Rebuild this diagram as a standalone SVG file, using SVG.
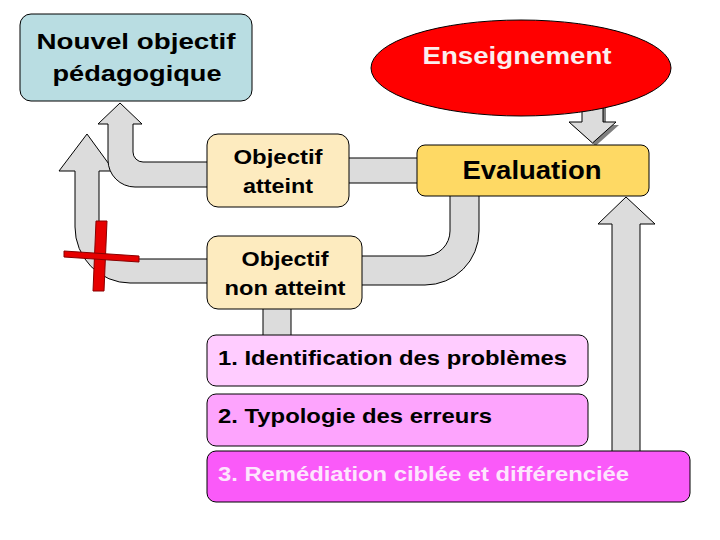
<svg xmlns="http://www.w3.org/2000/svg" width="720" height="540" viewBox="0 0 720 540">
<style>
.c{fill:#dcdcdc;stroke:#000;stroke-width:1}
.b{stroke:#000;stroke-width:1}
.t{font-family:"Liberation Sans",Arial,sans-serif;font-weight:bold;fill:#000}
</style>
<rect width="720" height="540" fill="#fff"/>
<g id="connectors">
  <path class="c" d="M215,259 H117 A18,18 0 0 1 99,241 V171 H114 L87,134 L59,171 H75 V227 A55,56 0 0 0 130,283 H215 Z"/>
  <path class="c" d="M215,162 H143 A10,10 0 0 1 133,152 V124 H142 L120,103 L98,124 H108 V160 A27,27 0 0 0 135,187 H215 Z"/>
  <rect class="c" x="345" y="158" width="75" height="25"/>
  <path class="c" d="M450,190 V231 A25,25 0 0 1 425,256 H355 V285 H425 A54,54 0 0 0 479,231 V190 Z"/>
  <rect class="c" x="263" y="305" width="28" height="34"/>
  <path class="c" d="M612,455 V224 H598 L626,197 L655,224 H640 V455 Z"/>
  <path fill="#7f7f7f" d="M585,103 V125 H572 L595.5,146 L619,125 H606 V103 Z"/>
  <path class="c" d="M582,100 V122 H569 L592.5,143 L616,122 H603 V100 Z"/>
</g>
<g id="cross">
  <path fill="#e60000" stroke="#800" stroke-width="1" d="M96,221 L107,221 L104,291 L93,291 Z"/>
  <path fill="#e60000" stroke="#800" stroke-width="1" d="M64,251 L139,256 L139,262 L64,257 Z"/>
</g>
<g id="nouvel">
  <rect class="b" x="20" y="14" width="232" height="87" rx="11" fill="#b9dde2"/>
  <text class="t" x="136" y="49" font-size="22" text-anchor="middle" textLength="199" lengthAdjust="spacingAndGlyphs">Nouvel objectif</text>
  <text class="t" x="137" y="81" font-size="22" text-anchor="middle" textLength="169" lengthAdjust="spacingAndGlyphs">pédagogique</text>
</g>
<g id="enseignement">
  <ellipse class="b" cx="521" cy="68" rx="150" ry="48" fill="#ff0000"/>
  <text class="t" x="517" y="64" font-size="23" text-anchor="middle" style="fill:#fbeeee" textLength="189" lengthAdjust="spacingAndGlyphs">Enseignement</text>
</g>
<g id="evaluation">
  <rect class="b" x="417" y="145" width="232" height="51" rx="8" fill="#fed964"/>
  <text class="t" x="532" y="179" font-size="25" text-anchor="middle" textLength="139" lengthAdjust="spacingAndGlyphs">Evaluation</text>
</g>
<g id="atteint">
  <rect class="b" x="207" y="134" width="142" height="73" rx="11" fill="#fdebbf"/>
  <text class="t" x="278" y="164" font-size="21" text-anchor="middle" textLength="89" lengthAdjust="spacingAndGlyphs">Objectif</text>
  <text class="t" x="278" y="193" font-size="21" text-anchor="middle" textLength="70" lengthAdjust="spacingAndGlyphs">atteint</text>
</g>
<g id="non-atteint">
  <rect class="b" x="207" y="236" width="155" height="73" rx="11" fill="#fdebbf"/>
  <text class="t" x="285" y="266" font-size="21" text-anchor="middle" textLength="87" lengthAdjust="spacingAndGlyphs">Objectif</text>
  <text class="t" x="285" y="295" font-size="21" text-anchor="middle" textLength="121" lengthAdjust="spacingAndGlyphs">non atteint</text>
</g>
<g id="step1">
  <rect class="b" x="207" y="335" width="381" height="51" rx="9" fill="#ffccff"/>
  <text class="t" x="218" y="365" font-size="21" textLength="349" lengthAdjust="spacingAndGlyphs">1. Identification des problèmes</text>
</g>
<g id="step2">
  <rect class="b" x="207" y="394" width="381" height="52" rx="9" fill="#fda4fd"/>
  <text class="t" x="218" y="423" font-size="21" textLength="274" lengthAdjust="spacingAndGlyphs">2. Typologie des erreurs</text>
</g>
<g id="step3">
  <rect class="b" x="207" y="451" width="483" height="51" rx="9" fill="#fa5af9"/>
  <text class="t" x="218" y="481" font-size="21" style="fill:#fde6fd" textLength="411" lengthAdjust="spacingAndGlyphs">3. Remédiation ciblée et différenciée</text>
</g>
</svg>
